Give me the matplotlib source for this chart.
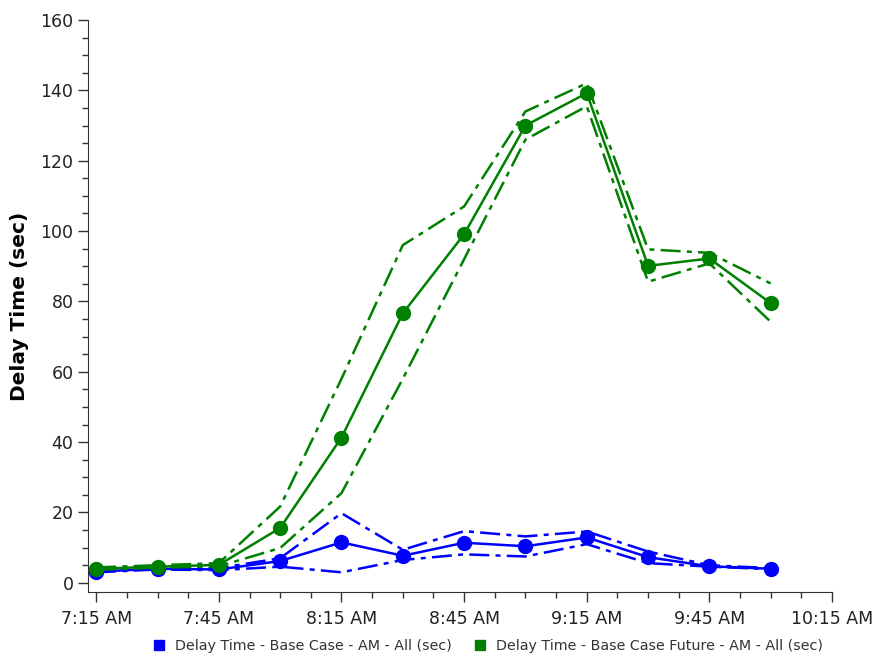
import matplotlib
matplotlib.use('Agg')
import matplotlib.pyplot as plt
from matplotlib.ticker import MultipleLocator, FuncFormatter
import numpy as np

# data, one point every 15 min
times = ['7:15', '7:30', '7:45', '8:00', '8:15', '8:30', '8:45', '9:00', '9:15', '9:30', '9:45', '10:00']

base_mean = [3.2, 4.0, 3.8, 6.2, 11.5, 7.7, 11.4, 10.4, 12.9, 7.3, 4.7, 4.0]
base_upper = [3.5, 4.3, 4.2, 7.0, 19.8, 9.4, 14.7, 13.2, 14.6, 8.9, 5.0, 4.2]
base_lower = [3.0, 3.8, 3.6, 4.6, 3.0, 6.5, 8.1, 7.5, 11.0, 5.6, 4.6, 3.9]

future_mean = [4.0, 4.6, 5.1, 15.6, 41.3, 76.6, 99.1, 130.0, 139.2, 90.1, 92.2, 79.5]
future_upper = [4.4, 5.0, 5.6, 21.7, 58.0, 96.0, 107.0, 134.0, 142.0, 94.8, 93.8, 85.1]
future_lower = [3.7, 4.3, 4.7, 9.9, 25.5, 58.0, 92.0, 126.0, 135.5, 85.6, 90.8, 74.2]

legend_labels = ['Delay Time - Base Case - AM - All (sec)',
                 'Delay Time - Base Case Future - AM - All (sec)']


def to_hours(t):
    h, m = t.split(':')
    return int(h) + int(m) / 60.0


x = np.array([to_hours(t) for t in times])

fig = plt.figure(figsize=(8.75, 6.55), dpi=100)
ax = fig.add_axes([0.1006, 0.0962, 0.8503, 0.8733])

dashdot = (0, (8, 2.5, 2, 2.5))
series = [('#0000ff', base_mean, base_upper, base_lower),
          ('#008000', future_mean, future_upper, future_lower)]
for color, mean, up, lo in series:
    ax.plot(x, up, color=color, lw=1.8, linestyle=dashdot)
    ax.plot(x, lo, color=color, lw=1.8, linestyle=dashdot)
    ax.plot(x, mean, color=color, lw=1.8, marker='o', markersize=10)

ax.set_xlim(to_hours('7:13'), to_hours('10:15'))
ax.set_ylim(-2.6, 160)

ax.xaxis.set_minor_locator(MultipleLocator(0.125))


def fmt_time(v, pos):
    h = int(v + 1e-6)
    m = int(round((v - h) * 60))
    return '%d:%02d AM' % (h, m)


ax.xaxis.set_major_formatter(FuncFormatter(fmt_time))
ax.set_xticks(np.arange(to_hours('7:15'), to_hours('10:16'), 0.5))
ax.yaxis.set_major_locator(MultipleLocator(20))
ax.yaxis.set_minor_locator(MultipleLocator(5))

ax.spines['top'].set_visible(False)
ax.spines['right'].set_visible(False)
ax.spines['left'].set_color('#333333')
ax.spines['bottom'].set_color('#333333')
ax.tick_params(which='major', length=7, width=1, color='#333333', labelsize=12.5, labelcolor='#222222')
ax.tick_params(which='minor', length=4, width=1, color='#333333')
ax.tick_params(axis='x', pad=6)

ax.set_ylabel('Delay Time (sec)', fontsize=14.5, fontweight='bold', labelpad=8)

handles = [plt.Line2D([], [], color=c, marker='s', linestyle='none', markersize=7) for c in ['#0000ff', '#008000']]
fig.legend(handles, legend_labels, loc='lower center', bbox_to_anchor=(0.553, -0.016), ncol=2,
           frameon=False, fontsize=10.3, handletextpad=0.1, columnspacing=1.0, labelcolor='#333333')

plt.savefig('out.png', dpi=100)
